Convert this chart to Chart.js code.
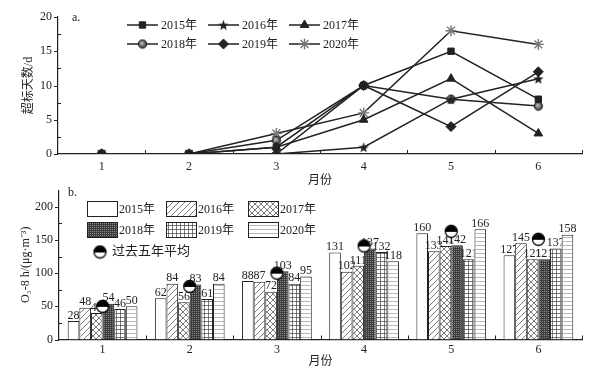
<!DOCTYPE html>
<html>
<head>
<meta charset="utf-8">
<script src="https://cdn.jsdelivr.net/npm/chart.js@4.4.0/dist/chart.umd.min.js"></script>
<style>
  html, body { margin: 0; padding: 0; background: #fff; }
  #top { position: absolute; left: 0; top: 0; width: 604px; height: 188px; }
  #bottom { position: absolute; left: 0; top: 177px; width: 604px; height: 197px; }
</style>
</head>
<body>
<div id="top"><canvas id="days-chart"></canvas></div>
<div id="bottom"><canvas id="o3-chart"></canvas></div>
<script>
// Data
const months = ['1', '2', '3', '4', '5', '6'];
const years = ['2015年', '2016年', '2017年', '2018年', '2019年', '2020年'];

// a. exceedance days per month
const days2015 = [0, 0, 1, 10, 15, 8];
const days2016 = [0, 0, 0, 1, 8, 11];
const days2017 = [0, 0, 1, 5, 11, 3];
const days2018 = [0, 0, 2, 10, 8, 7];
const days2019 = [0, 0, 0, 10, 4, 12];
const days2020 = [0, 0, 3, 6, 18, 16];
const daysTicks = [0, 5, 10, 15, 20];

// b. O3-8h concentration per month
const o3_2015 = [28, 62, 88, 131, 160, 127];
const o3_2016 = [48, 84, 87, 102, 133, 145];
const o3_2017 = [40, 56, 72, 111, 141, 121];
const o3_2018 = [54, 83, 103, 137, 142, 121];
const o3_2019 = [46, 61, 84, 132, 121, 137];
const o3_2020 = [50, 84, 95, 118, 166, 158];
const o3Avg = [50, 80, 100, 141, 163, 151];
const avgLabel = '过去五年平均';
const o3Ticks = [0, 50, 100, 150, 200];

const FONT = "'Liberation Serif', 'Noto Sans CJK SC', serif";
const INK = '#222';
Chart.defaults.font.family = FONT;
Chart.defaults.font.size = 12;
Chart.defaults.color = INK;

// Marker images
function starMarker(r) {
  const c = document.createElement('canvas');
  const s = Math.ceil(2 * r + 2);
  c.width = c.height = s;
  const g = c.getContext('2d');
  g.beginPath();
  for (let i = 0; i < 10; i++) {
    const rad = i % 2 === 0 ? r : r * 0.42;
    const a = -Math.PI / 2 + i * Math.PI / 5;
    g.lineTo(s / 2 + rad * Math.cos(a), s / 2 + 0.6 + rad * Math.sin(a));
  }
  g.closePath();
  g.fillStyle = INK;
  g.fill();
  return c;
}

function sphereMarker(r) {
  const c = document.createElement('canvas');
  const s = Math.ceil(2 * r + 2);
  c.width = c.height = s;
  const g = c.getContext('2d');
  const grad = g.createRadialGradient(s / 2 - 1, s / 2 - 1, 0.5, s / 2, s / 2, r);
  grad.addColorStop(0, '#bbb');
  grad.addColorStop(1, '#333');
  g.beginPath();
  g.arc(s / 2, s / 2, r, 0, Math.PI * 2);
  g.fillStyle = grad;
  g.fill();
  g.lineWidth = 1;
  g.strokeStyle = INK;
  g.stroke();
  return c;
}

function halfMarker(r) {
  const c = document.createElement('canvas');
  const s = Math.ceil(2 * r + 3);
  c.width = c.height = s;
  const g = c.getContext('2d');
  const m = s / 2;
  g.beginPath();
  g.arc(m, m, r, 0, Math.PI * 2);
  g.fillStyle = '#fff';
  g.fill();
  g.beginPath();
  g.arc(m, m + 0.5, r, Math.PI, Math.PI * 2);
  g.closePath();
  g.fillStyle = '#000';
  g.fill();
  g.beginPath();
  g.arc(m, m, r, 0, Math.PI * 2);
  g.lineWidth = 1.3;
  g.strokeStyle = '#000';
  g.stroke();
  return c;
}

// Bar fill patterns
function makePattern(kind) {
  const c = document.createElement('canvas');
  const size = kind === 'dark' ? 2 : (kind === 'grid' || kind === 'hline') ? 4 : 6;
  c.width = c.height = size;
  const g = c.getContext('2d');
  g.fillStyle = '#fff';
  g.fillRect(0, 0, size, size);
  g.strokeStyle = '#444';
  g.lineWidth = 0.7;
  g.beginPath();
  if (kind === 'diag' || kind === 'cross') {
    g.moveTo(0, size); g.lineTo(size, 0);
    g.moveTo(-size / 2, size / 2); g.lineTo(size / 2, -size / 2);
    g.moveTo(size / 2, size * 1.5); g.lineTo(size * 1.5, size / 2);
  }
  if (kind === 'cross') {
    g.moveTo(0, 0); g.lineTo(size, size);
    g.moveTo(-size / 2, size / 2); g.lineTo(size / 2, size * 1.5);
    g.moveTo(size / 2, -size / 2); g.lineTo(size * 1.5, size / 2);
  }
  if (kind === 'grid') {
    g.moveTo(0.5, 0); g.lineTo(0.5, size);
    g.moveTo(0, 0.5); g.lineTo(size, 0.5);
  }
  if (kind === 'hline') {
    g.strokeStyle = '#999';
    g.moveTo(0, 0.5); g.lineTo(size, 0.5);
  }
  g.stroke();
  if (kind === 'dark') {
    g.fillStyle = '#3c3c3c';
    g.fillRect(0, 0, 2, 2);
    g.fillStyle = '#8a8a8a';
    g.fillRect(0, 0, 1, 1);
  }
  return g.createPattern(c, 'repeat');
}

const fills = ['#fff', 'diag', 'cross', 'dark', 'grid', 'hline'].map(k => k === '#fff' ? k : makePattern(k));

// Plugins
const axisTicks = {
  id: 'axisTicks',
  afterDraw(chart, args, opts) {
    const { ctx, chartArea: a, scales: { x, y } } = chart;
    const major = opts.major;
    ctx.save();
    ctx.strokeStyle = INK;
    ctx.lineWidth = 1;
    ctx.beginPath();
    major.forEach((v, i) => {
      const py = Math.round(y.getPixelForValue(v)) + 0.5;
      ctx.moveTo(a.left - 4, py); ctx.lineTo(a.left, py);
      if (i > 0) {
        const pm = Math.round(y.getPixelForValue((v + major[i - 1]) / 2)) + 0.5;
        ctx.moveTo(a.left, pm); ctx.lineTo(a.left + 3, pm);
      }
    });
    const step = x.getPixelForTick(1) - x.getPixelForTick(0);
    for (let i = 1; i <= months.length; i++) {
      const px = Math.round(x.getPixelForTick(0) - step / 2 + i * step) + 0.5;
      ctx.moveTo(px, a.bottom); ctx.lineTo(px, a.bottom - 4);
    }
    ctx.stroke();
    ctx.restore();
  }
};

const panelLabel = {
  id: 'panelLabel',
  afterDraw(chart, args, opts) {
    const ctx = chart.ctx;
    ctx.save();
    ctx.font = `12px ${FONT}`;
    ctx.fillStyle = INK;
    ctx.textBaseline = 'middle';
    ctx.fillText(opts.text, opts.x, opts.y);
    ctx.restore();
  }
};

const lineLegend = {
  id: 'lineLegend',
  afterDraw(chart, args, opts) {
    const ctx = chart.ctx;
    chart.data.datasets.forEach((ds, i) => {
      const x0 = opts.cols[i % 3];
      const y0 = opts.rows[Math.floor(i / 3)];
      ctx.save();
      ctx.strokeStyle = ds.borderColor;
      ctx.lineWidth = ds.borderWidth;
      ctx.beginPath();
      ctx.moveTo(x0, y0);
      ctx.lineTo(x0 + opts.lineLen, y0);
      ctx.stroke();
      ctx.fillStyle = ds.pointBackgroundColor;
      ctx.strokeStyle = ds.pointBorderColor;
      ctx.lineWidth = ds.pointBorderWidth;
      Chart.helpers.drawPoint(ctx, {
        pointStyle: ds.pointStyle, radius: ds.pointRadius,
        borderWidth: ds.pointBorderWidth, rotation: 0
      }, x0 + opts.lineLen / 2, y0);
      ctx.fillStyle = INK;
      ctx.font = `12px ${FONT}`;
      ctx.textBaseline = 'middle';
      ctx.fillText(ds.label, x0 + opts.lineLen + 3, y0 + 1);
      ctx.restore();
    });
  }
};

// Value labels: drawn once every bar is drawn (index 0 is drawn last),
// each one hidden behind the bars of later years in the same month.
const barLabels = {
  id: 'barLabels',
  afterDatasetDraw(chart, args) {
    if (args.index !== 0) return;
    const ctx = chart.ctx;
    const barMetas = chart.data.datasets
      .map((ds, i) => chart.getDatasetMeta(i))
      .filter(m => m.type === 'bar');
    barMetas.forEach((meta, i) => {
      const ds = chart.data.datasets[meta.index];
      meta.data.forEach((bar, j) => {
        ctx.save();
        ctx.beginPath();
        ctx.rect(0, 0, chart.width, chart.height);
        barMetas.slice(i + 1).forEach(m => {
          const b = m.data[j];
          ctx.rect(b.x - b.width / 2, b.y, b.width, b.base - b.y);
        });
        ctx.clip('evenodd');
        ctx.font = `12px ${FONT}`;
        ctx.fillStyle = INK;
        ctx.textAlign = 'center';
        ctx.textBaseline = 'bottom';
        ctx.fillText(String(ds.data[j]), bar.x, bar.y + 0.5);
        ctx.restore();
      });
    });
  }
};

const boxLegend = {
  id: 'boxLegend',
  afterDraw(chart, args, opts) {
    const ctx = chart.ctx;
    ctx.save();
    ctx.font = `12px ${FONT}`;
    ctx.textBaseline = 'middle';
    chart.data.datasets.forEach((ds, i) => {
      if (ds.type === 'line') {
        ctx.drawImage(ds.pointStyle, opts.avgX - ds.pointStyle.width / 2, opts.avgY - ds.pointStyle.height / 2);
        ctx.fillStyle = INK;
        ctx.font = `13px ${FONT}`;
        ctx.fillText(ds.label, opts.avgX + 12, opts.avgY);
        return;
      }
      const x0 = opts.cols[i % 3];
      const y0 = opts.rows[Math.floor(i / 3)];
      ctx.fillStyle = ds.backgroundColor;
      ctx.fillRect(x0, y0, opts.w, opts.h);
      ctx.strokeStyle = INK;
      ctx.lineWidth = 1;
      ctx.strokeRect(x0 + 0.5, y0 + 0.5, opts.w, opts.h);
      ctx.fillStyle = INK;
      ctx.fillText(ds.label, x0 + opts.w + 2, y0 + opts.h / 2 + 1);
    });
    ctx.restore();
  }
};

// Chart a: exceedance days
const daySeries = [days2015, days2016, days2017, days2018, days2019, days2020];
const dayMarkers = [
  { style: 'rect', r: 4.5, bg: INK, bc: INK, bw: 1 },
  { style: starMarker(5.5), r: 5, bg: INK, bc: INK, bw: 0 },
  { style: 'triangle', r: 5, bg: INK, bc: INK, bw: 1 },
  { style: sphereMarker(4.2), r: 4, bg: '#666', bc: INK, bw: 1 },
  { style: 'rectRot', r: 5, bg: INK, bc: INK, bw: 1 },
  { style: 'star', r: 5.5, bg: '#fff', bc: '#777', bw: 1.4 }
];

new Chart(document.getElementById('days-chart'), {
  type: 'line',
  data: {
    labels: months,
    datasets: daySeries.map((vals, i) => ({
      label: years[i],
      data: vals,
      borderColor: INK,
      borderWidth: 1.5,
      pointStyle: dayMarkers[i].style,
      pointRadius: dayMarkers[i].r,
      pointBackgroundColor: dayMarkers[i].bg,
      pointBorderColor: dayMarkers[i].bc,
      pointBorderWidth: dayMarkers[i].bw,
      tension: 0,
      order: i === 1 ? -1 : i
    }))
  },
  options: {
    responsive: true,
    maintainAspectRatio: false,
    animation: false,
    layout: { autoPadding: false, padding: { top: 17, right: 22, bottom: 0, left: 0 } },
    plugins: {
      legend: { display: false },
      tooltip: { enabled: false },
      axisTicks: { major: daysTicks },
      panelLabel: { text: 'a.', x: 72, y: 18 },
      lineLegend: { cols: [127, 208, 289], rows: [25, 44], lineLen: 31 }
    },
    scales: {
      x: {
        type: 'category',
        offset: true,
        grid: { display: false, drawTicks: false },
        border: { color: INK, width: 1.2 },
        ticks: { padding: 6, maxRotation: 0, color: INK },
        title: { display: true, text: '月份', padding: { top: 0, bottom: 0 } },
        afterFit: s => { s.height = 34; }
      },
      y: {
        min: 0,
        max: 20,
        afterBuildTicks: s => { s.ticks = daysTicks.map(v => ({ value: v })); },
        grid: { display: false, drawTicks: false },
        border: { color: INK, width: 1.2 },
        ticks: { padding: 6, color: INK },
        title: { display: true, text: '超标天数/d', padding: { top: 22, bottom: 0 } },
        afterFit: s => { s.width = 58; }
      }
    }
  },
  plugins: [axisTicks, panelLabel, lineLegend]
});

// Chart b: O3-8h (canvas starts 11px higher; the plot top sits 13px down)
const o3Series = [o3_2015, o3_2016, o3_2017, o3_2018, o3_2019, o3_2020];
const avgMarker = halfMarker(6);

new Chart(document.getElementById('o3-chart'), {
  type: 'bar',
  data: {
    labels: months,
    datasets: o3Series.map((vals, i) => ({
      label: years[i],
      data: vals,
      backgroundColor: fills[i],
      borderColor: INK,
      borderWidth: 1,
      categoryPercentage: 0.8,
      barPercentage: 1,
      order: 1
    })).concat([{
      type: 'line',
      label: avgLabel,
      data: o3Avg,
      showLine: false,
      pointStyle: avgMarker,
      pointRadius: 6,
      order: 0
    }])
  },
  options: {
    responsive: true,
    maintainAspectRatio: false,
    animation: false,
    layout: { autoPadding: false, padding: { top: 0, right: 22, bottom: 0, left: 0 } },
    plugins: {
      legend: { display: false },
      tooltip: { enabled: false },
      axisTicks: { major: o3Ticks },
      panelLabel: { text: 'b.', x: 68, y: 16 },
      boxLegend: { cols: [87, 166, 248], rows: [24, 45], w: 30, h: 15, avgX: 100, avgY: 75 }
    },
    scales: {
      x: {
        grid: { display: false, drawTicks: false },
        border: { color: INK, width: 1.2 },
        ticks: { padding: 3, maxRotation: 0, color: INK },
        title: { display: true, text: '月份', padding: { top: 0, bottom: 5 } },
        afterFit: s => { s.height = 34.5; }
      },
      y: {
        min: 0,
        max: 225,
        afterBuildTicks: s => { s.ticks = o3Ticks.map(v => ({ value: v })); },
        grid: { display: false, drawTicks: false },
        border: { color: INK, width: 1.2 },
        ticks: { padding: 6, color: INK },
        title: { display: true, text: 'O₃-8 h/(μg·m⁻³)', padding: { top: 19, bottom: 0 } },
        afterFit: s => { s.width = 59; }
      }
    }
  },
  plugins: [axisTicks, panelLabel, barLabels, boxLegend]
});
</script>
</body>
</html>
